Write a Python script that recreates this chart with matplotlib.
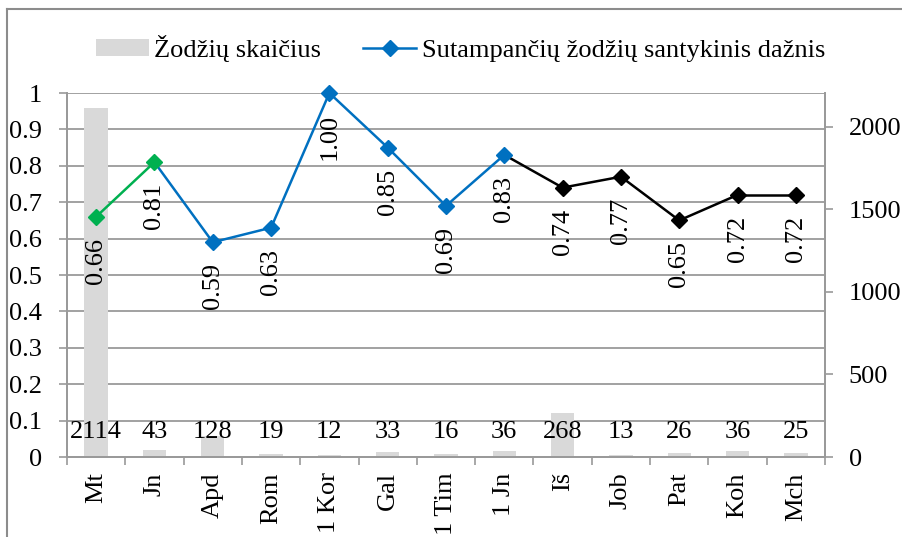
import matplotlib
matplotlib.use("Agg")
import matplotlib.pyplot as plt
from matplotlib.lines import Line2D
from matplotlib.patches import Patch

plt.rcParams['font.family'] = ['Liberation Serif', 'DejaVu Serif']

categories = ["Mt", "Jn", "Apd", "Rom", "1 Kor", "Gal", "1 Tim", "1 Jn", "Iš", "Job", "Pat", "Koh", "Mch"]
word_counts = [2114, 43, 128, 19, 12, 33, 16, 36, 268, 13, 26, 36, 25]
rel_freq = [0.66, 0.81, 0.59, 0.63, 1.00, 0.85, 0.69, 0.83, 0.74, 0.77, 0.65, 0.72, 0.72]
point_colors = ["#00B050", "#00B050", "#0070C0", "#0070C0", "#0070C0", "#0070C0", "#0070C0",
                "#0070C0", "#000000", "#000000", "#000000", "#000000", "#000000"]
left_ticks = [0, 0.1, 0.2, 0.3, 0.4, 0.5, 0.6, 0.7, 0.8, 0.9, 1]
left_tick_labels = ["0", "0.1", "0.2", "0.3", "0.4", "0.5", "0.6", "0.7", "0.8", "0.9", "1"]
right_ticks = [0, 500, 1000, 1500, 2000]

W, H = 903, 537
fig = plt.figure(figsize=(W / 100, H / 100), dpi=100)
ax_line = fig.add_axes([67 / W, 1 - 457 / H, (825 - 67) / W, (457 - 93) / H])
ax_bar = ax_line.twinx()
ax_line.set_zorder(2)
ax_bar.set_zorder(1)
ax_line.patch.set_visible(False)

GRID = "#9a9a9a"
FS = 19
x = list(range(len(categories)))

# bars
ax_bar.bar(x, word_counts, width=0.4, color="#D9D9D9", zorder=2)
ax_bar.set_ylim(0, 2206)
ax_bar.set_yticks(right_ticks)
ax_bar.yaxis.tick_right()
ax_bar.tick_params(axis='y', direction='out', length=6, width=1.2, color=GRID, labelsize=FS, pad=11)
for i, v in enumerate(word_counts):
    ax_bar.annotate(str(v), xy=(i, 0), xytext=(0, 13.5), textcoords='offset points',
                    ha='center', va='baseline', fontsize=FS, zorder=5)
# gridlines behind bars (left-axis scale 0..1 equals axes fraction)
for t in left_ticks[1:]:
    ax_bar.plot([0, 1], [t, t], transform=ax_bar.transAxes, color=GRID, lw=1.3, zorder=1)

# line
for i in range(1, len(rel_freq)):
    ax_line.plot([x[i - 1], x[i]], [rel_freq[i - 1], rel_freq[i]], color=point_colors[i], lw=1.8,
                 zorder=3, solid_capstyle='round')
for i, v in enumerate(rel_freq):
    ax_line.plot(x[i], v, marker='D', markersize=8.5, color=point_colors[i], zorder=4, clip_on=False)
    ax_line.annotate(f"{v:.2f}", xy=(i, v), xytext=(0, -15), textcoords='offset points',
                     ha='center', va='top', rotation=90, fontsize=FS, zorder=5)

ax_line.set_ylim(0, 1)
ax_line.set_xlim(-0.5, len(categories) - 0.5)
ax_line.set_yticks(left_ticks)
ax_line.set_yticklabels(left_tick_labels)
ax_line.tick_params(axis='y', direction='out', length=6, width=1.2, color=GRID, labelsize=FS, pad=12)
ax_line.set_xticks([i - 0.5 for i in range(len(categories) + 1)])
ax_line.set_xticklabels([])
ax_line.set_xticks(x, minor=True)
ax_line.set_xticklabels(categories, minor=True, rotation=90, fontsize=FS)
ax_line.tick_params(axis='x', which='major', direction='out', length=6, width=1.2, color=GRID)
ax_line.tick_params(axis='x', which='minor', length=0, pad=11)

for a in (ax_line, ax_bar):
    for s in a.spines.values():
        s.set_color(GRID)
        s.set_linewidth(1.3)
    a.spines['top'].set_visible(False)

# legend
handles = [Patch(facecolor="#D9D9D9", edgecolor="none"),
           Line2D([0], [0], color="#0070C0", lw=1.8, marker='D', markersize=8.5)]
labels = ["Žodžių skaičius", "Sutampančių žodžių santykinis dažnis"]
fig.legend(handles, labels, loc='center', bbox_to_anchor=(0.51, 1 - 48 / H), ncol=2, frameon=False,
           fontsize=FS, handlelength=2.0, handletextpad=0.2, columnspacing=1.6, handleheight=0.6)

# outer chart border (clipped at right/bottom)
fig.add_artist(Line2D([7 / W, 1], [1 - 9 / H, 1 - 9 / H], transform=fig.transFigure, color="#8c8c8c", lw=1.5))
fig.add_artist(Line2D([7 / W, 7 / W], [0, 1 - 9 / H], transform=fig.transFigure, color="#8c8c8c", lw=1.5))

fig.savefig("out.png", dpi=100)
